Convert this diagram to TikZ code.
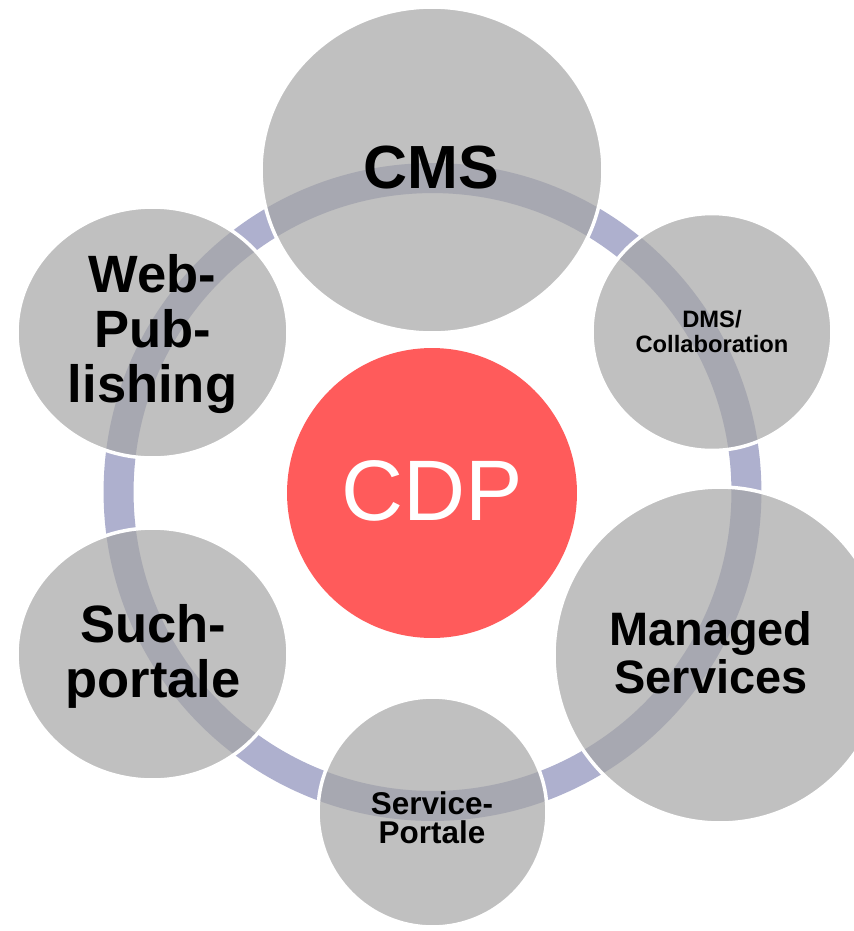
\documentclass[tikz,border=0pt]{standalone}
\usepackage{fontspec}
\setmainfont{Liberation Sans}
\usetikzlibrary{shapes.geometric}
\definecolor{ringc}{RGB}{174,176,206}
\definecolor{bubc}{RGB}{165,165,165}
\definecolor{cdpc}{RGB}{255,91,91}
\begin{document}
\begin{tikzpicture}[x=0.02cm,y=-0.02cm,
  ringline/.style={draw=ringc, line width=0.6cm},
  bubble/.style={shape=ellipse, inner sep=0pt, outer sep=0pt, fill=bubc, fill opacity=0.7, draw=white, draw opacity=1, line width=0.07cm},
  lbl/.style={inner sep=0pt, anchor=base, align=center, text=black},
]
\useasboundingbox (0,0) rectangle (854,931);
\clip (0,0) rectangle (854,931);
\coordinate (ctr) at (432.5,492);
\draw[ringline] (ctr) circle [radius=6.28cm];
% satellite bubbles
\node (cms)  [bubble, minimum width=6.84cm, minimum height=6.52cm] at (432,170) {};
\node (dms)  [bubble, minimum width=4.80cm, minimum height=4.74cm] at (712,332) {};
\node (mgd)  [bubble, minimum width=6.64cm, minimum height=6.72cm] at (720,655) {};
\node (svc)  [bubble, minimum width=4.58cm, minimum height=4.60cm] at (432.5,812) {};
\node (such) [bubble, minimum width=5.42cm, minimum height=5.04cm] at (152.5,654) {};
\node (web)  [bubble, minimum width=5.42cm, minimum height=5.02cm] at (152.5,332.5) {};
% centre
\node (cdp) [shape=circle, fill=cdpc, inner sep=0pt, minimum size=5.8cm] at (432,493) {};
% labels (anchor=base is the baseline of the last line)
\node (cdpT) [lbl, text=white, font=\fontsize{48.9pt}{50pt}\selectfont] at (432,520.7) {CDP};
\node (cmsT) [lbl, font=\bfseries\fontsize{34.7pt}{36pt}\selectfont] at (431.5,188) {CMS};
\node (dmsT) [lbl, font=\bfseries\fontsize{13.5pt}{14.2pt}\selectfont] at (712,352) {DMS/\\Collaboration};
\node (mgdT) [lbl, font=\bfseries\fontsize{26.7pt}{27.3pt}\selectfont] at (711,693) {Managed\\Services};
\node (svcT) [lbl, font=\bfseries\fontsize{17.9pt}{16pt}\selectfont] at (432,843) {Service-\\Portale};
\node (suchT) [lbl, font=\bfseries\fontsize{29.9pt}{31.3pt}\selectfont] at (153,697) {Such-\\portale};
\node (webT) [lbl, font=\bfseries\fontsize{29.9pt}{31.3pt}\selectfont] at (152.5,402) {Web-\\Pub-\\lishing};
\end{tikzpicture}
\end{document}
